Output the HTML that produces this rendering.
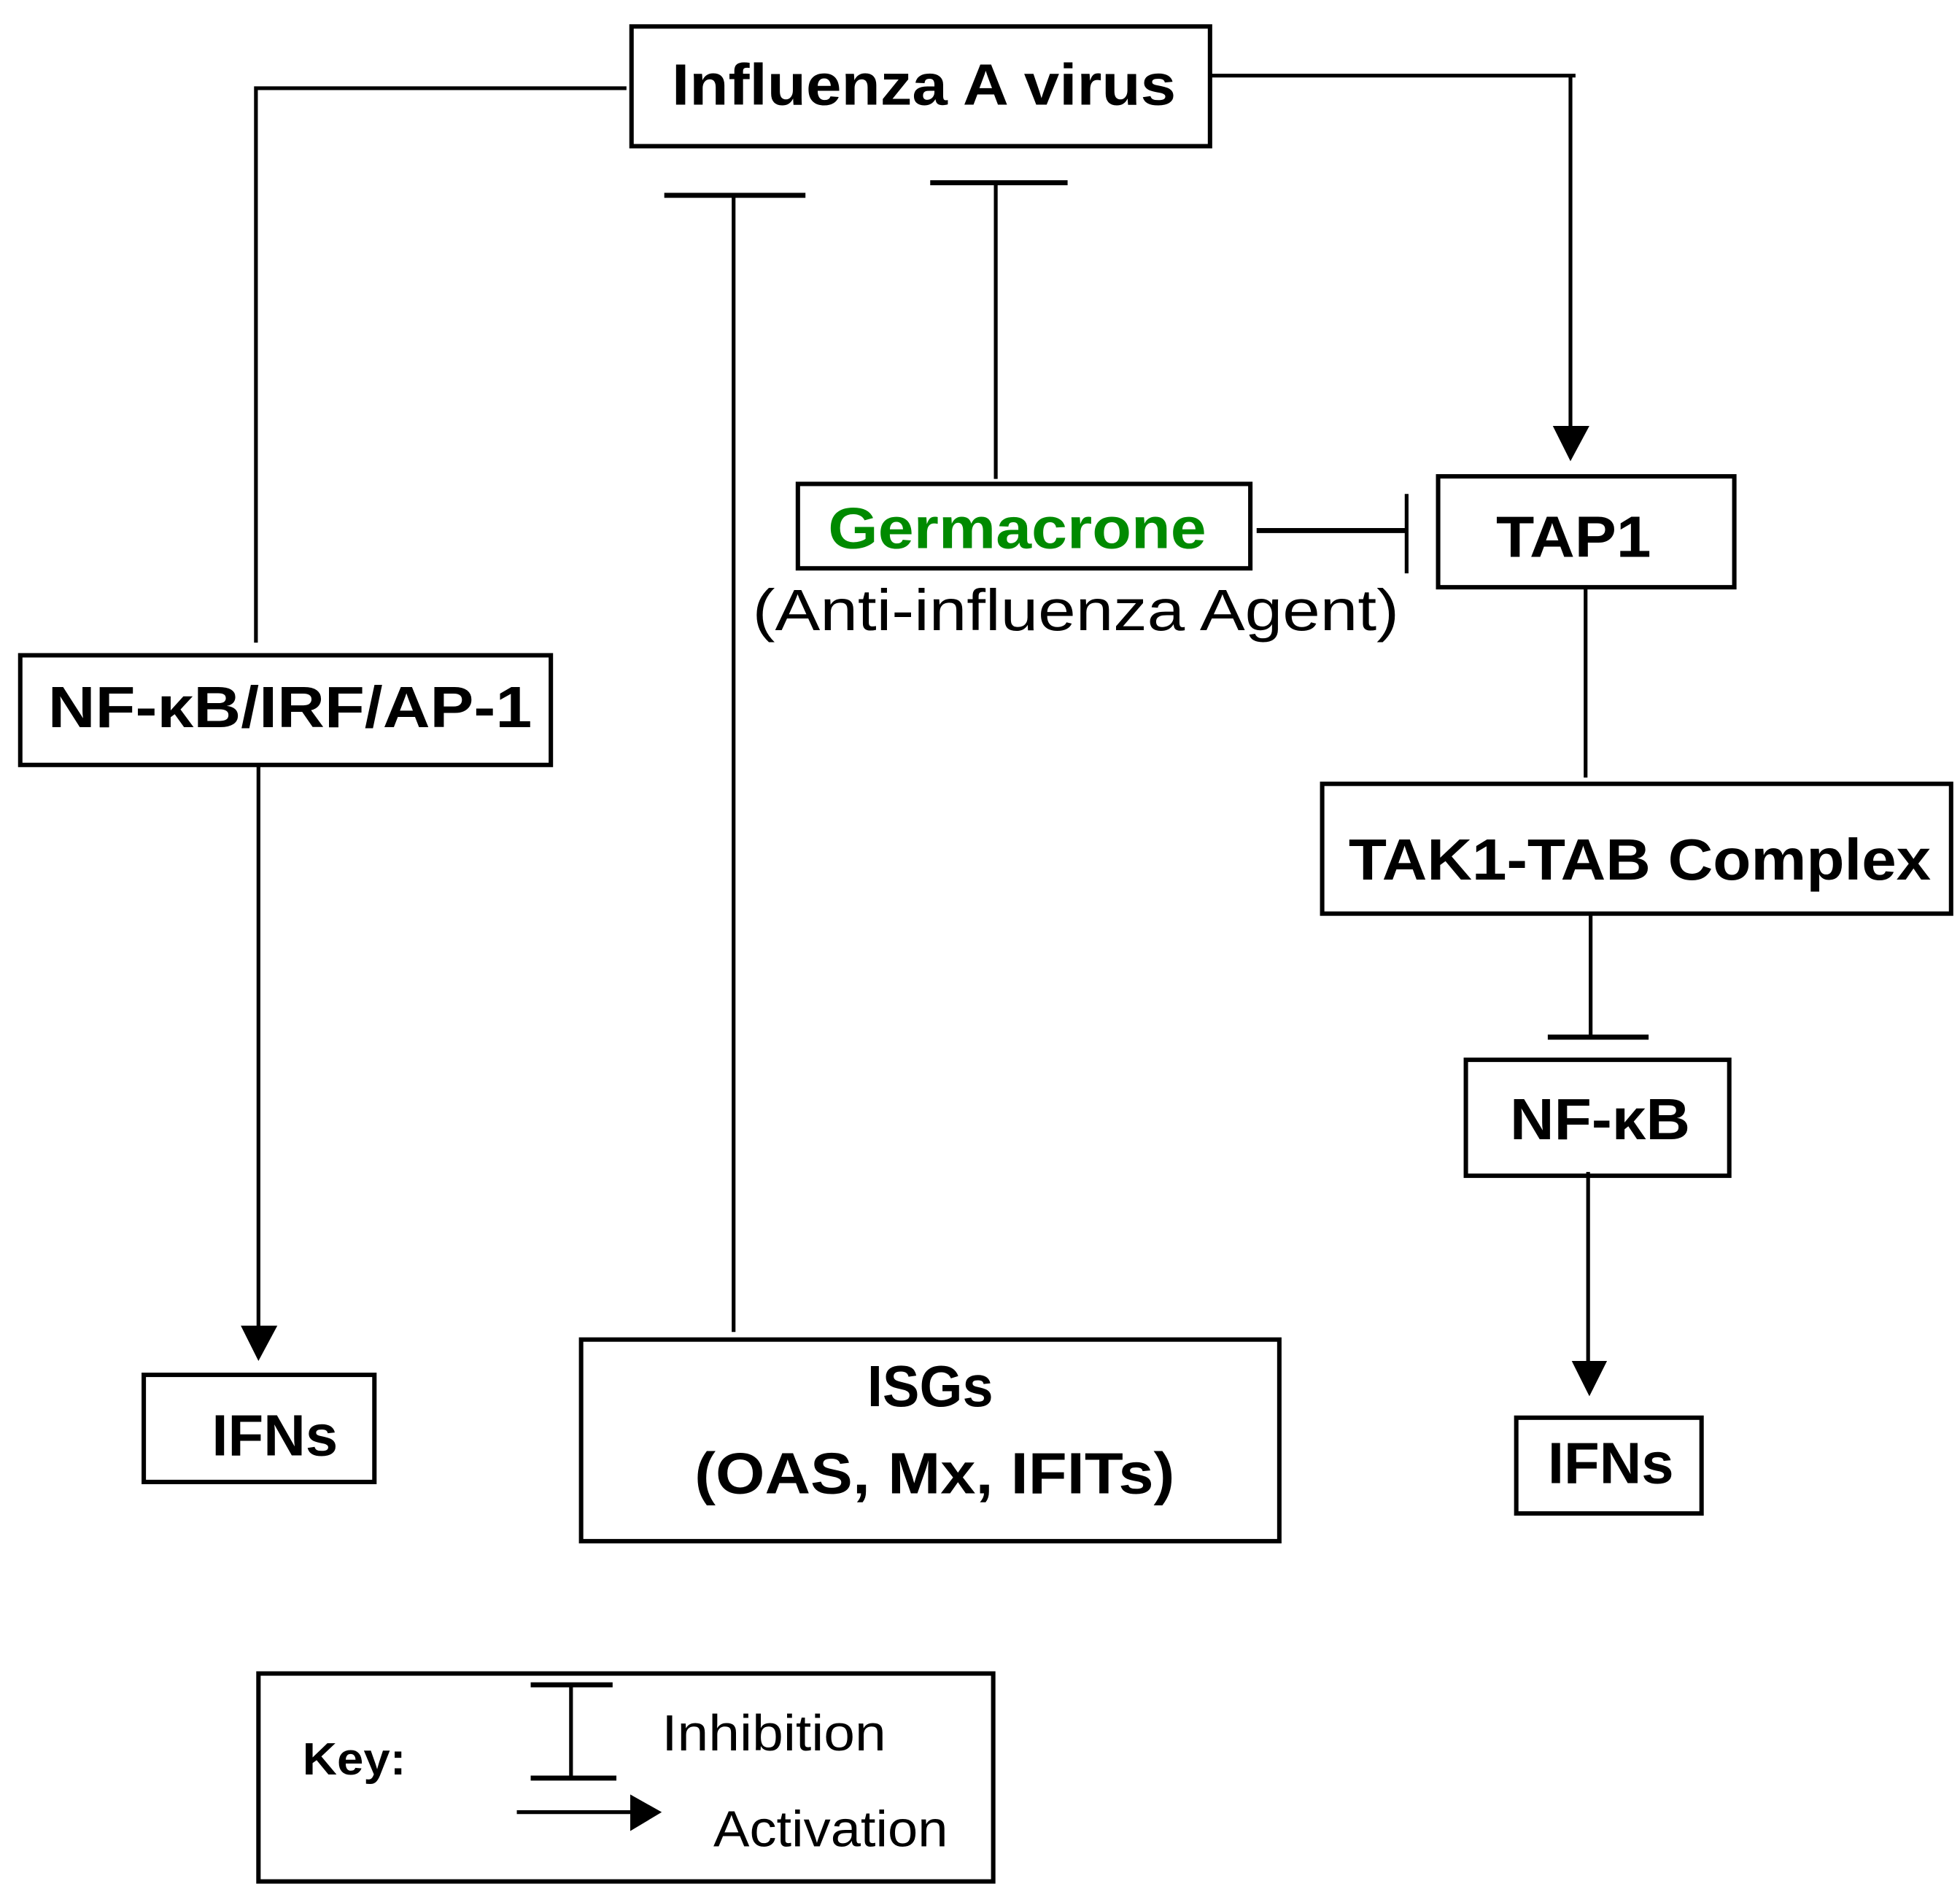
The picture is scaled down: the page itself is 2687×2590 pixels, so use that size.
<!DOCTYPE html>
<html><head><meta charset="utf-8"><style>
html,body{margin:0;padding:0;background:#fff;}
svg{display:block;}
text{font-family:"Liberation Sans",sans-serif;}
</style></head><body>
<svg width="2687" height="2590" viewBox="0 0 1555 1499" xmlns="http://www.w3.org/2000/svg">
<rect width="1555" height="1499" fill="#fff"/>
<g fill="none" stroke="#000" stroke-width="3.5">
<rect x="501" y="21" width="459" height="95"/>
<rect x="16" y="520" width="421" height="87"/>
<rect x="114" y="1091" width="183" height="85"/>
<rect x="633" y="384" width="359" height="67"/>
<rect x="1141" y="378" width="235" height="88"/>
<rect x="1049" y="622" width="499" height="103"/>
<rect x="1163" y="841" width="209" height="92"/>
<rect x="1203" y="1125" width="147" height="76"/>
<rect x="461" y="1063" width="554" height="160"/>
<rect x="205" y="1328" width="583" height="165"/>
</g>
<g fill="none" stroke="#000" stroke-width="3">
<polyline points="497,70 203,70 203,510"/>
<line x1="205" y1="607" x2="205" y2="1055"/>
<line x1="527" y1="155" x2="639" y2="155" stroke-width="4"/>
<line x1="582" y1="155" x2="582" y2="1057"/>
<line x1="738" y1="145" x2="847" y2="145" stroke-width="4"/>
<line x1="790" y1="145" x2="790" y2="380"/>
<line x1="997" y1="421" x2="1115" y2="421" stroke-width="4"/>
<line x1="1116" y1="392" x2="1116" y2="455"/>
<polyline points="960,60 1250,60"/>
<line x1="1246" y1="60" x2="1246" y2="340"/>
<line x1="1258" y1="466" x2="1258" y2="617"/>
<line x1="1262" y1="725" x2="1262" y2="822"/>
<line x1="1228" y1="823" x2="1308" y2="823" stroke-width="4"/>
<line x1="1260" y1="930" x2="1260" y2="1082"/>
<line x1="421" y1="1337" x2="486" y2="1337" stroke-width="4"/>
<line x1="421" y1="1411" x2="489" y2="1411" stroke-width="4"/>
<line x1="453" y1="1337" x2="453" y2="1411"/>
<line x1="410" y1="1438" x2="502" y2="1438"/>
</g>
<g fill="#000">
<polygon points="1232,338 1261,338 1246,366"/>
<polygon points="191,1052 220,1052 205,1080"/>
<polygon points="1247,1080 1275,1080 1261,1108"/>
<polygon points="500,1424 525,1438 500,1453"/>
</g>
<g font-weight="bold" font-size="46" fill="#000">
<text x="533" y="83" textLength="400" lengthAdjust="spacingAndGlyphs">Influenza A virus</text>
<text x="38" y="577" textLength="384" lengthAdjust="spacingAndGlyphs">NF-κB/IRF/AP-1</text>
<text x="168" y="1155" textLength="100" lengthAdjust="spacingAndGlyphs">IFNs</text>
<text x="657" y="435" textLength="300" lengthAdjust="spacingAndGlyphs" fill="#008a00">Germacrone</text>
<text x="1187" y="442" textLength="123" lengthAdjust="spacingAndGlyphs">TAP1</text>
<text x="1070" y="698" textLength="462" lengthAdjust="spacingAndGlyphs">TAK1-TAB Complex</text>
<text x="1198" y="904" textLength="143" lengthAdjust="spacingAndGlyphs">NF-κB</text>
<text x="1228" y="1177" textLength="100" lengthAdjust="spacingAndGlyphs">IFNs</text>
<text x="688" y="1116" textLength="100" lengthAdjust="spacingAndGlyphs">ISGs</text>
<text x="551" y="1185" textLength="381" lengthAdjust="spacingAndGlyphs">(OAS, Mx, IFITs)</text>
<text x="240" y="1408" font-size="36" textLength="82" lengthAdjust="spacingAndGlyphs">Key:</text>
</g>
<g font-size="46" fill="#000">
<text x="597" y="500" textLength="513" lengthAdjust="spacingAndGlyphs">(Anti-influenza Agent)</text>
<text x="525" y="1389" font-size="40" textLength="178" lengthAdjust="spacingAndGlyphs">Inhibition</text>
<text x="566" y="1465" font-size="40" textLength="186" lengthAdjust="spacingAndGlyphs">Activation</text>
</g>
</svg>
</body></html>
